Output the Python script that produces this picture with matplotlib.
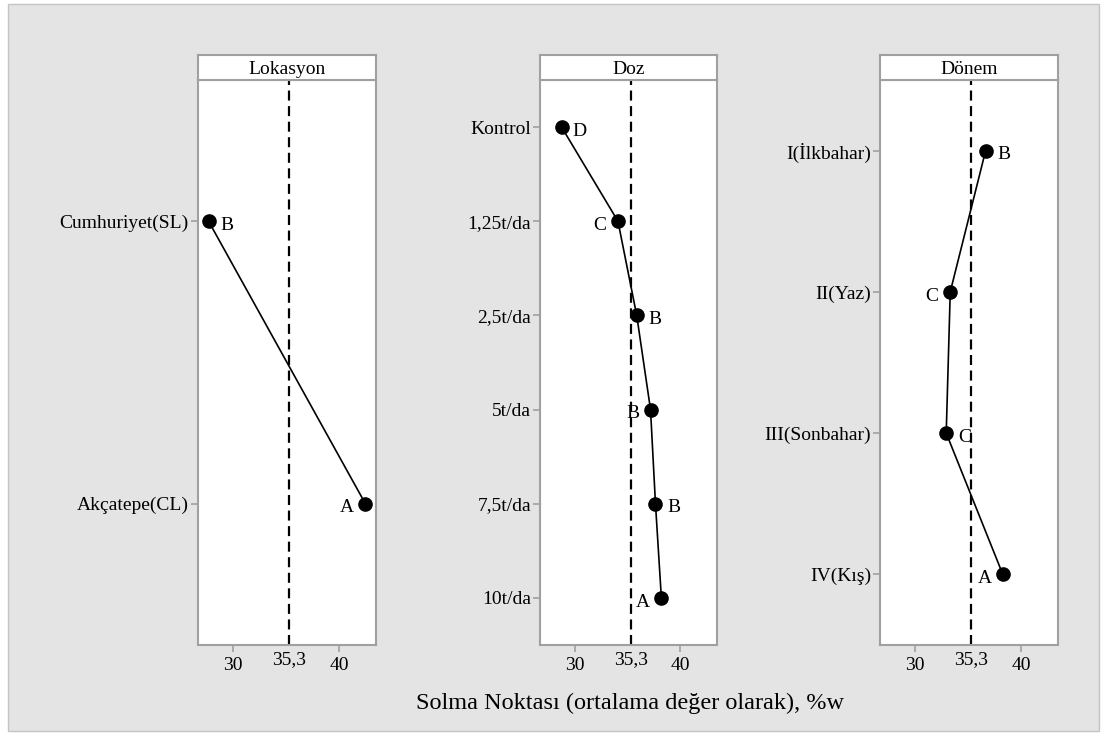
import matplotlib
matplotlib.use("Agg")
import matplotlib.pyplot as plt
from matplotlib.patches import Rectangle
from matplotlib.transforms import blended_transform_factory, offset_copy

plt.rcParams['font.family'] = ['Liberation Serif', 'DejaVu Serif']

# ---- data ----
panel_titles = ["Lokasyon", "Doz", "Dönem"]

lok_labels = ["Cumhuriyet(SL)", "Akçatepe(CL)"]
lok_values = [27.7, 42.5]
lok_letters = ["B", "A"]
lok_sides = [1, -1]

doz_labels = ["Kontrol", "1,25t/da", "2,5t/da", "5t/da", "7,5t/da", "10t/da"]
doz_values = [28.75, 34.1, 35.88, 37.19, 37.66, 38.22]
doz_letters = ["D", "C", "B", "B", "B", "A"]
doz_sides = [1, -1, 1, -1, 1, -1]

don_labels = ["I(İlkbahar)", "II(Yaz)", "III(Sonbahar)", "IV(Kış)"]
don_values = [36.67, 33.33, 32.95, 38.29]
don_letters = ["B", "C", "C", "A"]
don_sides = [1, -1, 1, -1]

grand_mean = 35.3
mean_label = "35,3"
x_ticks = [30, 40]
x_ticklabels = ["30", "40"]
x_label = "Solma Noktası (ortalama değer olarak), %w"

# ---- figure ----
W, H = 1101, 733
fig = plt.figure(figsize=(W / 100, H / 100), dpi=100)
fig.patch.set_facecolor("white")
fig.patches.append(Rectangle((8 / W, 2 / H), (1091) / W, (727) / H,
                             transform=fig.transFigure, facecolor="#e4e4e4",
                             edgecolor="#c4c4c4", linewidth=1.0, zorder=-10))

panels = [
    (198, 376, lok_labels, lok_values, lok_letters, lok_sides),
    (540, 717, doz_labels, doz_values, doz_letters, doz_sides),
    (880, 1058, don_labels, don_values, don_letters, don_sides),
]
top_px, bot_px, head_px = 80, 645, 55
border = "#a0a0a0"
fs = 14

for (l, r, labels, values, letters, sides), title in zip(panels, panel_titles):
    ax = fig.add_axes([l / W, 1 - bot_px / H, (r - l) / W, (bot_px - top_px) / H])
    ax.set_facecolor("white")
    n = len(labels)
    ypos = list(range(n))
    ax.set_xlim(26.7, 43.5)
    ax.set_ylim(n - 0.5, -0.5)
    ax.axvline(grand_mean, color="black", linestyle=(0, (4.5, 2.5)), linewidth=1.6, zorder=1)
    ax.plot(values, ypos, color="black", linewidth=1.2, marker="o",
            markersize=9.5, zorder=3)
    for v, y, t, s in zip(values, ypos, letters, sides):
        ax.annotate(t, (v, y), xytext=(13 * s, -3), textcoords="offset points",
                    ha="center", va="center", fontsize=fs, color="black")
    ax.set_yticks(ypos)
    ax.set_yticklabels(labels, fontsize=fs)
    ax.set_xticks(x_ticks)
    ax.set_xticklabels(x_ticklabels, fontsize=fs)
    ax.tick_params(axis="both", color=border, length=5, width=1.2, pad=4)
    ax.tick_params(axis="y", pad=1.5)
    for sp in ax.spines.values():
        sp.set_color(border)
        sp.set_linewidth(1.5)
    # mean label slightly raised
    trans = blended_transform_factory(ax.transData, ax.transAxes)
    ax.text(grand_mean, 0, mean_label, transform=offset_copy(trans, fig=fig, x=0, y=-6, units="dots"),
            ha="center", va="top", fontsize=fs)
    # header box
    hax = fig.add_axes([l / W, 1 - top_px / H, (r - l) / W, (top_px - head_px) / H])
    hax.set_facecolor("white")
    hax.set_xticks([])
    hax.set_yticks([])
    for sp in hax.spines.values():
        sp.set_color(border)
        sp.set_linewidth(1.5)
    hax.text(0.5, 0.42, title, ha="center", va="center", fontsize=fs, transform=hax.transAxes)

fig.text(630 / W, 1 - 703 / H, x_label, ha="center", va="center", fontsize=17.5)

fig.savefig("out.png", dpi=100, facecolor=fig.get_facecolor())
